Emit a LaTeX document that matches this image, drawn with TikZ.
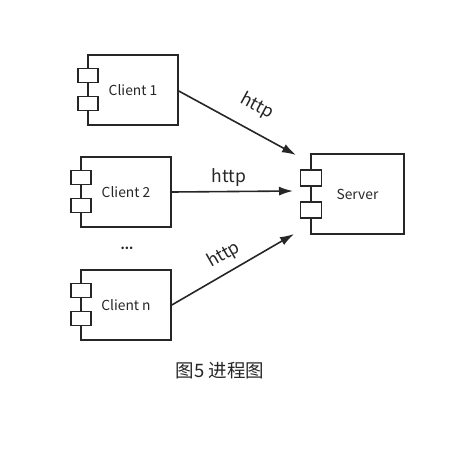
\documentclass[tikz,border=0pt]{standalone}
\usepackage{fontspec}
\setmainfont{Noto Sans CJK SC}
\usetikzlibrary{arrows.meta}
\begin{document}
\begin{tikzpicture}[x=1pt,y=-1pt,
  comp/.style={draw=black!85,line width=1.6pt,minimum width=90pt,minimum height=70pt,inner sep=0pt,font=\fontsize{13.8}{15}\selectfont,text=black!85},
  port/.style={draw=black!85,line width=1.6pt,fill=white,minimum width=20pt,minimum height=14pt,inner sep=0pt},
  conn/.style={draw=black!85,line width=1.6pt,-{Latex[length=14pt,width=9pt]}},
  lbl/.style={font=\fontsize{17.5}{19}\selectfont,text=black!85,inner sep=0pt}]
\useasboundingbox (0,0) rectangle (466,451);
% Client 1
\node[comp] (c1) at (133,90) {Client 1};
\node[port] (c1a) at (88,75.5) {};
\node[port] (c1b) at (88,103.5) {};
% Client 2
\node[comp] (c2) at (126,192) {Client 2};
\node[port] (c2a) at (81,177.5) {};
\node[port] (c2b) at (81,205.5) {};
% Client n
\node[comp] (cn) at (126,305) {Client n};
\node[port] (cna) at (81,290.5) {};
\node[port] (cnb) at (81,318.5) {};
% Server
\node[comp,minimum width=93pt,minimum height=80pt] (s) at (357.5,194) {Server};
\node[port,minimum width=21pt,minimum height=16pt] (sa) at (311,178) {};
\node[port,minimum width=21pt,minimum height=16pt] (sb) at (311,210) {};
% arrow ends
\coordinate (e1) at (296,155);
\coordinate (e2) at (293,191);
\coordinate (en) at (294,234);
\draw[conn] (c1.east |- 0,91) -- (e1);
\draw[conn] (c2.east) -- (e2);
\draw[conn] (cn.east) -- (en);
\node[lbl,rotate=-28.5] (l1) at (257,106) {http};
\node[lbl] (l2) at (229,178) {http};
\node[lbl,rotate=29.6] (ln) at (224,255) {http};
\node[font=\fontsize{12}{14}\selectfont\bfseries,text=black!85] (dots) at (127,248) {...};
\node[font=\fontsize{18.5}{21}\selectfont,text=black!85] (cap) at (220,371) {图5 进程图};
\end{tikzpicture}
\end{document}
